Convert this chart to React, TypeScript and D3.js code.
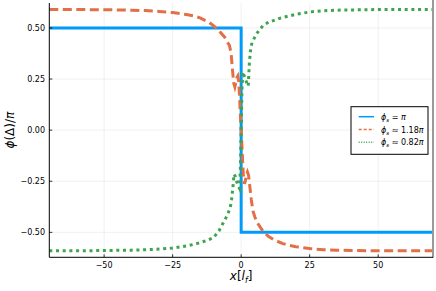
import React from 'react';
import { scaleLinear, line } from 'd3';

// x ticks / y ticks
const xTicks = [-50, -25, 0, 25, 50];
const xTickLabels = ['\u221250', '\u221225', '0', '25', '50'];
const yTicks = [-0.5, -0.25, 0, 0.25, 0.5];
const yTickLabels = ['\u22120.50', '\u22120.25', '0.00', '0.25', '0.50'];

// phi_s = pi  (step)
const blueX = [-70, 0, 0, 70];
const blueY = [0.5, 0.5, -0.5, -0.5];

// phi_s ~ 1.18 pi
const orangeX = [-70, -60, -50, -40, -35, -30, -25, -20, -17, -15, -12, -10, -8, -6, -5, -4.3, -3.7, -3.2, -2.7, -2.3, -1.9, -1.5, -1.2, -0.9, -0.6, -0.3, 0,
  0.3, 0.6, 0.9, 1.2, 1.5, 1.9, 2.3, 2.7, 3.2, 3.7, 4.3, 5, 6, 8, 10, 12, 15, 17, 20, 25, 30, 35, 40, 50, 60, 70];
const orangeY = [0.59, 0.59, 0.589, 0.587, 0.585, 0.581, 0.575, 0.566, 0.558, 0.549, 0.53, 0.51, 0.485, 0.455, 0.43, 0.415, 0.38, 0.3, 0.23, 0.212, 0.235, 0.258, 0.265, 0.24, 0.17, 0.08, 0,
  -0.08, -0.17, -0.24, -0.262, -0.25, -0.22, -0.205, -0.22, -0.28, -0.34, -0.395, -0.425, -0.455, -0.495, -0.52, -0.537, -0.554, -0.562, -0.57, -0.579, -0.585, -0.587, -0.589, -0.59, -0.59, -0.59];

// phi_s ~ 0.82 pi
const greenX = [-70, -60, -50, -40, -35, -30, -25, -20, -17, -14, -12, -10, -8, -6, -5, -4, -3.5, -3, -2.6, -2.2, -1.8, -1.4, -1, -0.6, -0.3, 0,
  0.3, 0.6, 1, 1.4, 1.8, 2.2, 2.6, 3, 3.5, 4, 5, 6, 8, 10, 12, 14, 17, 20, 25, 30, 35, 40, 50, 60, 70];
const greenY = [-0.59, -0.59, -0.589, -0.587, -0.585, -0.582, -0.577, -0.567, -0.558, -0.546, -0.537, -0.525, -0.49, -0.44, -0.415, -0.38, -0.34, -0.28, -0.215, -0.225, -0.245, -0.26, -0.275, -0.285, -0.2, 0,
  0.2, 0.285, 0.27, 0.255, 0.24, 0.225, 0.215, 0.33, 0.4, 0.43, 0.455, 0.478, 0.512, 0.528, 0.537, 0.547, 0.557, 0.567, 0.578, 0.584, 0.587, 0.588, 0.59, 0.59, 0.59];

const W = 436;
const H = 291;
const left = 49.3, right = 433, top = 3, bottom = 257.3;
const FONT = 'DejaVu Sans, sans-serif';

const App = () => {
  const x = scaleLinear().domain([-70, 70]).range([left, right]);
  const y = scaleLinear().domain([-0.622, 0.622]).range([bottom, top]);

  const mk = (xs: number[], ys: number[]) =>
    line<number>().x((d, i) => x(xs[i])).y((d) => y(d))(ys) || '';

  const series = [
    { d: mk(blueX, blueY), color: '#009AF9', dash: undefined as string | undefined, label: ['=', ''] },
    { d: mk(orangeX, orangeY), color: '#E36F47', dash: '9 4.5', label: ['\u2248', '1.18'] },
    { d: mk(greenX, greenY), color: '#3EA44E', dash: '3 3.7', label: ['\u2248', '0.82'] },
  ];
  const legendDash = [undefined, '3 2', '1 1.5'];

  return (
    <svg width={W} height={H} style={{ position: 'absolute', left: 0, top: 0, background: '#fff' }} fontFamily={FONT}>
      <defs>
        <clipPath id="plot">
          <rect x={left} y={top} width={right - left} height={bottom - top} />
        </clipPath>
      </defs>
      <rect x={0} y={0} width={W} height={H} fill="#fff" />
      {/* grid */}
      {xTicks.map((t) => (
        <line key={'gx' + t} x1={x(t)} x2={x(t)} y1={top} y2={bottom} stroke="#000" strokeOpacity={0.1} strokeWidth={0.6} />
      ))}
      {yTicks.map((t) => (
        <line key={'gy' + t} x1={left} x2={right} y1={y(t)} y2={y(t)} stroke="#000" strokeOpacity={0.1} strokeWidth={0.6} />
      ))}
      {/* series */}
      <g clipPath="url(#plot)" fill="none">
        {series.map((s, i) => (
          <path key={i} d={s.d} stroke={s.color} strokeWidth={3} strokeDasharray={s.dash} />
        ))}
      </g>
      {/* right edge */}
      <line x1={433} x2={433} y1={0} y2={bottom + 0.5} stroke="#999" strokeWidth={2} />
      {/* spines */}
      <line x1={left} x2={left} y1={top} y2={bottom} stroke="#000" strokeWidth={1} />
      <line x1={left} x2={right} y1={bottom} y2={bottom} stroke="#000" strokeWidth={1} />
      {/* ticks */}
      {xTicks.map((t, i) => (
        <g key={'tx' + t}>
          <line x1={x(t)} x2={x(t)} y1={bottom} y2={bottom - 3} stroke="#000" strokeWidth={0.8} />
          <text x={x(t)} y={268} fontSize={8} textAnchor="middle" fill="#000">{xTickLabels[i]}</text>
        </g>
      ))}
      {yTicks.map((t, i) => (
        <g key={'ty' + t}>
          <line x1={left} x2={left + 3} y1={y(t)} y2={y(t)} stroke="#000" strokeWidth={0.8} />
          <text x={45} y={y(t) + 3} fontSize={8} textAnchor="end" fill="#000">{yTickLabels[i]}</text>
        </g>
      ))}
      {/* axis labels */}
      <text x={x(0)} y={280} fontSize={12} textAnchor="middle" fill="#000">
        <tspan fontStyle="italic">x</tspan>[<tspan fontStyle="italic">l</tspan>
        <tspan fontSize={8} dy={2.5} fontStyle="italic">f</tspan>
        <tspan dy={-2.5}>]</tspan>
      </text>
      <text transform={`translate(14,${(top + bottom) / 2}) rotate(-90)`} fontSize={12} textAnchor="middle" fill="#000">
        <tspan fontStyle="italic">ϕ</tspan>(Δ)/<tspan fontStyle="italic">π</tspan>
      </text>
      {/* legend */}
      <g>
        <rect x={351} y={106.7} width={77} height={47.6} fill="#fff" stroke="#000" strokeWidth={1} />
        {series.map((s, i) => {
          const ly = 116.7 + i * 12.8;
          return (
            <g key={'lg' + i}>
              <line x1={358.7} x2={374} y1={ly} y2={ly} stroke={s.color} strokeWidth={1.5} strokeDasharray={legendDash[i]} />
              <text x={381} y={ly + 3} fontSize={8} fill="#000">
                <tspan fontStyle="italic">ϕ</tspan>
                <tspan fontSize={5.5} dy={2} fontStyle="italic">s</tspan>
                <tspan dy={-2}>{' ' + s.label[0] + ' ' + s.label[1]}</tspan>
                <tspan fontStyle="italic">π</tspan>
              </text>
            </g>
          );
        })}
      </g>
    </svg>
  );
};

export default App;
